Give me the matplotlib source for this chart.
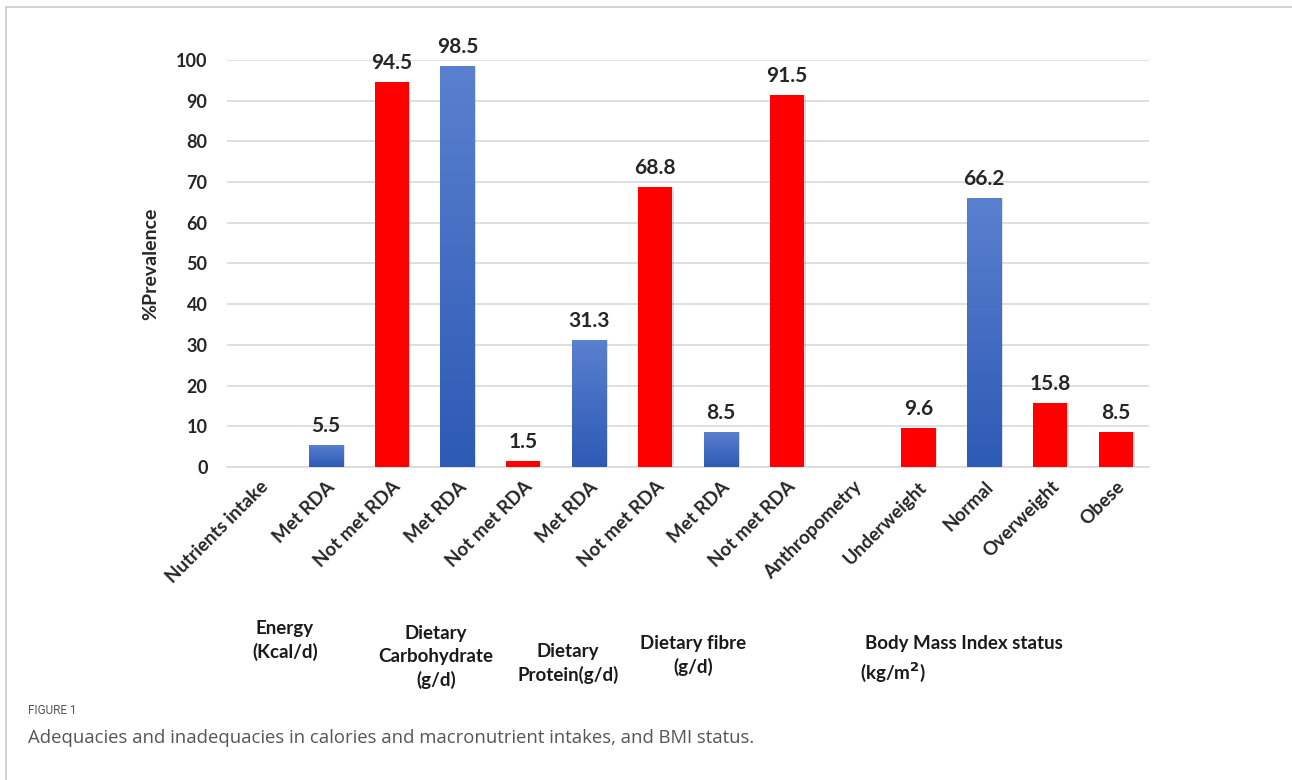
import numpy as np
import matplotlib
matplotlib.use("Agg")
import matplotlib.pyplot as plt
from matplotlib.lines import Line2D

# Data
categories = ["Nutrients intake", "Met RDA", "Not met RDA", "Met RDA", "Not met RDA",
              "Met RDA", "Not met RDA", "Met RDA", "Not met RDA", "Anthropometry",
              "Underweight", "Normal", "Overweight", "Obese"]
values = [0, 5.5, 94.5, 98.5, 1.5, 31.3, 68.8, 8.5, 91.5, 0, 9.6, 66.2, 15.8, 8.5]
kinds = ["none", "met", "not", "met", "not", "met", "not", "met", "not", "none",
         "not", "met", "not", "not"]
y_ticks = [0, 10, 20, 30, 40, 50, 60, 70, 80, 90, 100]

plt.rcParams['font.family'] = ['Lato', 'DejaVu Sans']

fig = plt.figure(figsize=(12.92, 7.8), dpi=100)
ax = fig.add_axes([0.1757, 0.4013, 0.7136, 0.5218])

x = np.arange(len(categories))
width = 0.52
red = '#ff0000'

# blue vertical gradient for "met" bars
grad = np.linspace(0, 1, 256).reshape(-1, 1)
cmap = matplotlib.colors.LinearSegmentedColormap.from_list(
    'blu', ['#2d5ab5', '#5a80cf'])

for xi, v, k in zip(x, values, kinds):
    if k == 'none':
        continue
    # soft shadow
    ax.bar(xi + 0.025, v, width, color='#000000', alpha=0.12, zorder=2,
           linewidth=0)
    if k == 'not':
        ax.bar(xi, v, width, color=red, zorder=3, linewidth=0)
    else:
        b = ax.bar(xi, v, width, color='none', zorder=3, linewidth=0)[0]
        im = ax.imshow(grad, cmap=cmap, aspect='auto', origin='lower',
                       extent=[xi - width / 2, xi + width / 2, 0, v], zorder=3)
        im.set_clip_path(b)
    ax.text(xi, v + 2.2, f"{v:g}", ha='center', va='bottom', fontsize=15,
            fontweight='bold', color='#262626')

ax.set_xlim(-0.5, len(categories) - 0.5)
ax.set_ylim(0, 100)
ax.set_yticks(y_ticks)
ax.set_yticklabels([str(t) for t in y_ticks], fontsize=13, fontweight='bold',
                   color='#262626')
ax.set_xticks(x)
ax.set_xticklabels(categories, rotation=45, ha='right', rotation_mode='anchor',
                   fontsize=13.5, fontweight='bold', color='#262626')
ax.tick_params(axis='both', length=0, pad=8)
ax.tick_params(axis='y', pad=14)
ax.yaxis.grid(True, color='#d9d9d9', linewidth=1.2)
ax.set_axisbelow(True)
for s in ['top', 'right', 'left']:
    ax.spines[s].set_visible(False)
ax.spines['bottom'].set_color('#d9d9d9')
ax.spines['bottom'].set_linewidth(1.2)
ax.set_ylabel('%Prevalence', fontsize=14, fontweight='bold', color='#262626',
              labelpad=12)

# group labels under the axis
grp = dict(fontsize=13.5, fontweight='bold', color='#1a1a1a', linespacing=1.4)
fig.text(285 / 1292, 1 - 620 / 780, "Energy\n(Kcal/d)", ha='center', va='top', **grp)
fig.text(436 / 1292, 1 - 625 / 780, "Dietary\nCarbohydrate\n(g/d)", ha='center', va='top', **grp)
fig.text(568 / 1292, 1 - 643 / 780, "Dietary\nProtein(g/d)", ha='center', va='top', **grp)
fig.text(693 / 1292, 1 - 635 / 780, "Dietary fibre\n(g/d)", ha='center', va='top', **grp)
fig.text(865 / 1292, 1 - 635 / 780, "Body Mass Index status", ha='left', va='top', **grp)
fig.text(860 / 1292, 1 - 660 / 780, "(kg/m$^\\mathbf{2}$)", ha='left', va='top', **grp)

# caption
fig.text(28 / 1292, 1 - 704 / 780, "FIGURE 1", ha='left', va='top', fontsize=8.5,
         color='#555555', family=['Roboto', 'DejaVu Sans'])
fig.text(28 / 1292, 1 - 729 / 780,
         "Adequacies and inadequacies in calories and macronutrient intakes, and BMI status.",
         ha='left', va='top', fontsize=13.3, color='#555555',
         family=['Open Sans', 'DejaVu Sans'])

# frame lines
fig.add_artist(Line2D([6 / 1292, 1], [1 - 7 / 780, 1 - 7 / 780], color='#cccccc', lw=1.2))
fig.add_artist(Line2D([6 / 1292, 6 / 1292], [0, 1 - 7 / 780], color='#cccccc', lw=1.2))

fig.savefig('out.png', dpi=100)
